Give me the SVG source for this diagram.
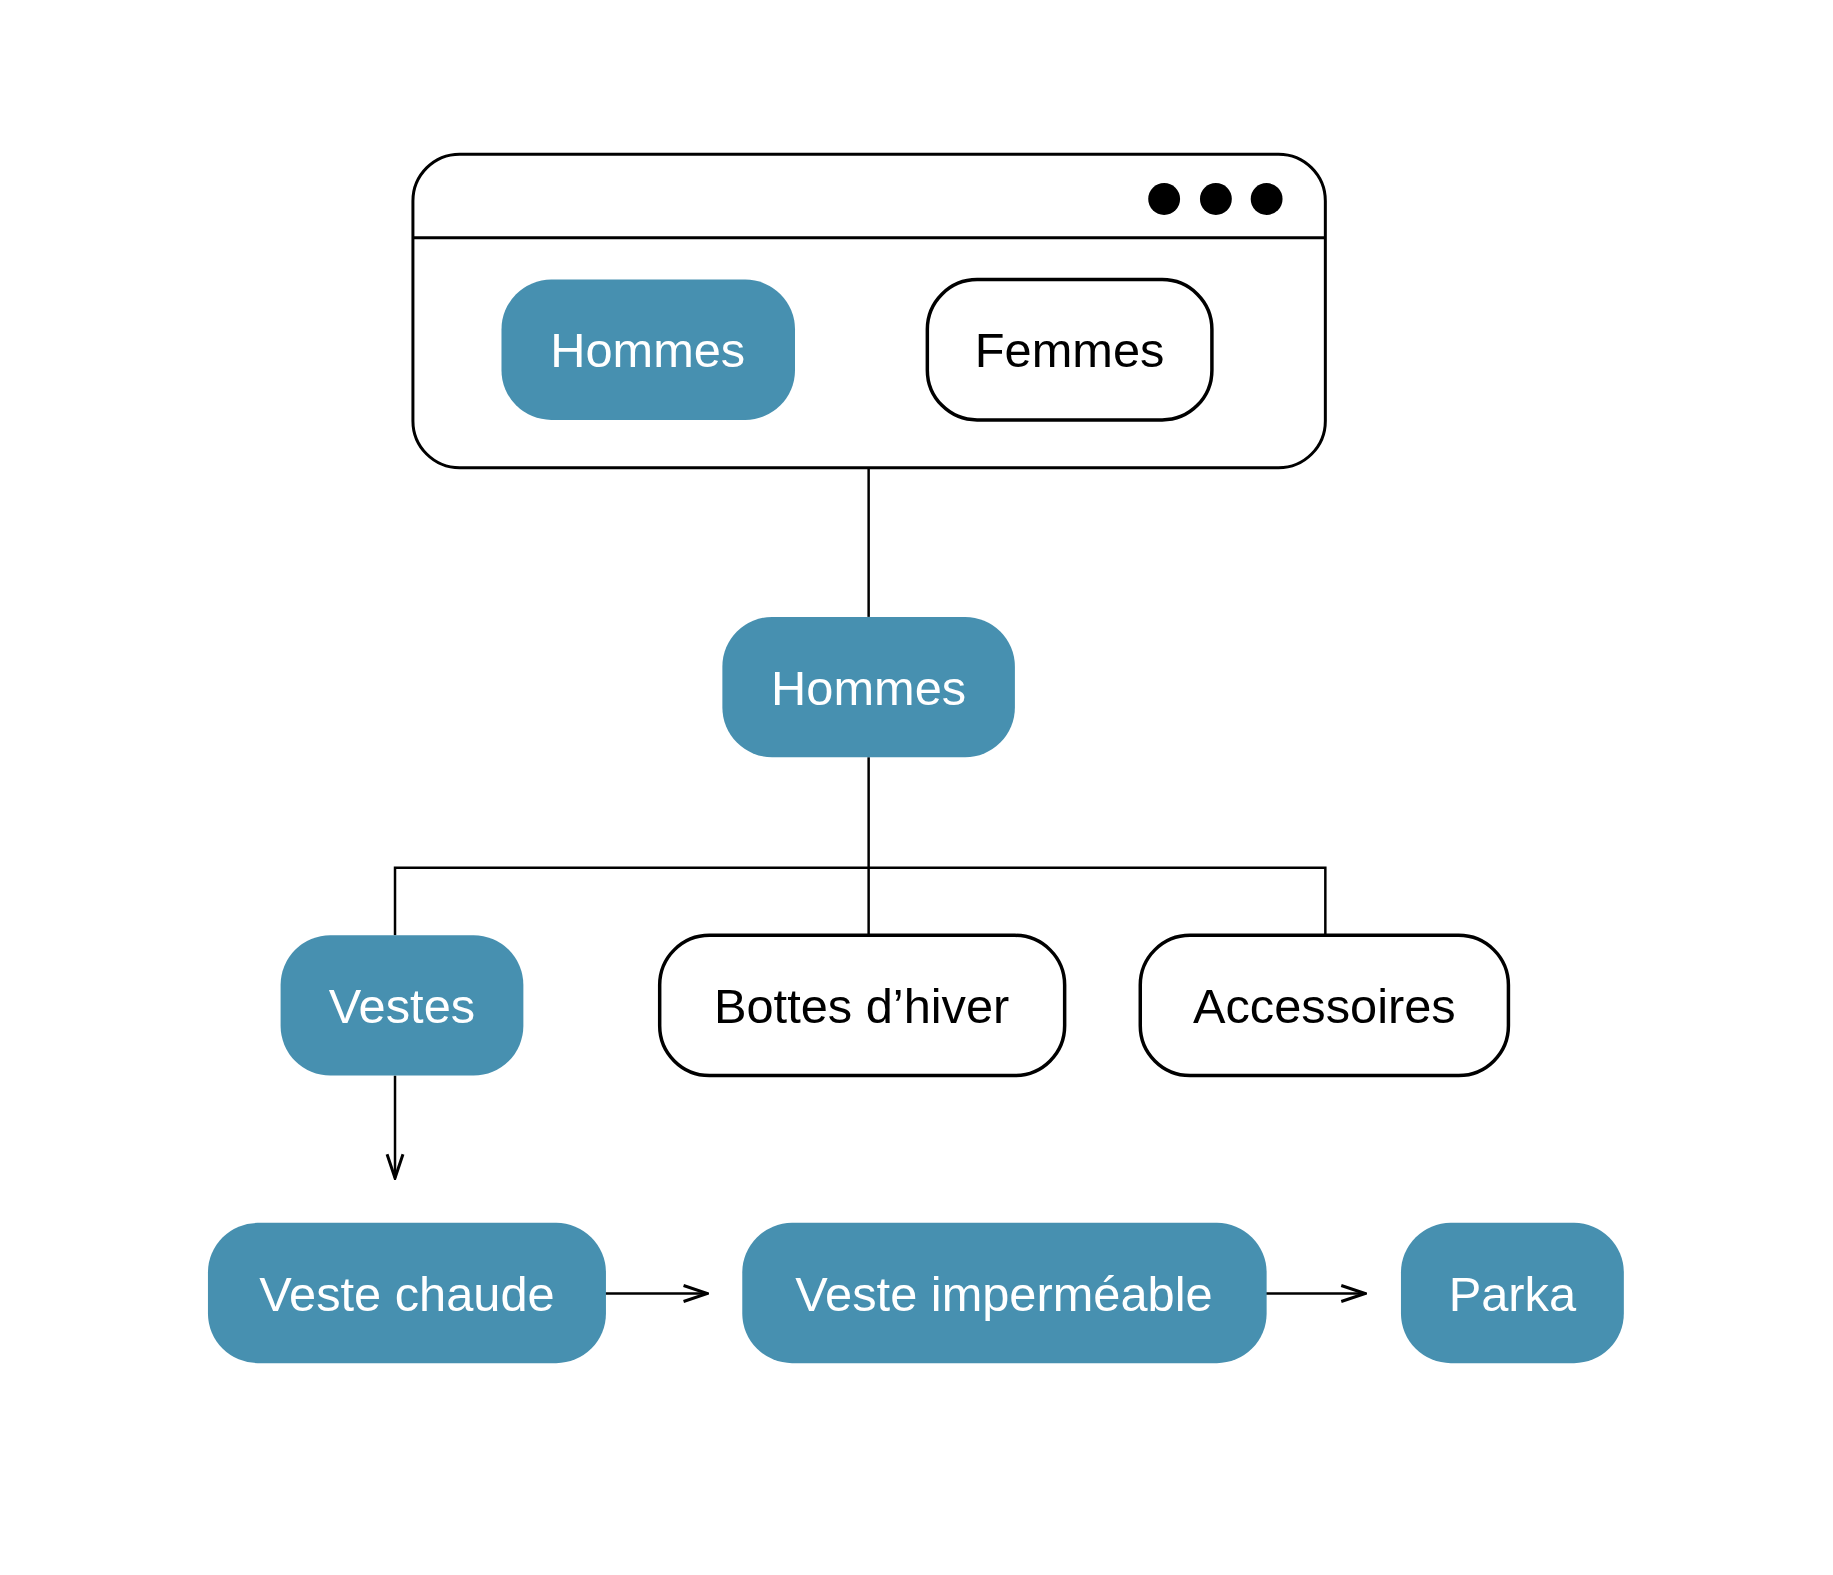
<svg xmlns="http://www.w3.org/2000/svg" width="1833" height="1575" viewBox="0 0 1833 1575">
<style>
.f{fill:#4790b0}
.o{fill:#fff;stroke:#000;stroke-width:3.5}
text{font-family:"Liberation Sans",Arial,sans-serif;font-size:49px;text-anchor:middle;dominant-baseline:central}
.w{fill:#fff}
.k{fill:#000}
.c{stroke:#000;stroke-width:2.5;fill:none}
</style>
<defs><marker id="a" markerWidth="28" markerHeight="20" refX="26" refY="10" orient="auto" markerUnits="userSpaceOnUse"><path d="M2,2 L26,10 L2,18" fill="none" stroke="#000" stroke-width="3"/></marker></defs>
<rect width="1833" height="1575" fill="#fff"/>
<g transform="scale(0.995)">
<g id="window">
<rect x="415" y="155" width="917" height="315" rx="47" fill="#fff" stroke="#000" stroke-width="3"/>
<line x1="415" y1="239" x2="1332" y2="239" stroke="#000" stroke-width="3"/>
<circle cx="1170" cy="200" r="16"/><circle cx="1222" cy="200" r="16"/><circle cx="1273" cy="200" r="16"/>
</g>
<g id="tab-hommes"><rect class="f" x="504" y="281" width="295" height="141" rx="50"/><text class="w" x="651" y="352">Hommes</text></g>
<g id="tab-femmes"><rect class="o" x="932" y="281" width="286" height="141" rx="50"/><text class="k" x="1075" y="352">Femmes</text></g>
<g id="connectors" class="c">
<line x1="873" y1="470" x2="873" y2="620"/>
<line x1="873" y1="761" x2="873" y2="940"/>
<polyline points="397,940 397,872 1332,872 1332,940"/>
<line x1="397" y1="1081" x2="397" y2="1184" marker-end="url(#a)"/>
<line x1="605" y1="1300" x2="711" y2="1300" marker-end="url(#a)"/>
<line x1="1269" y1="1300" x2="1372" y2="1300" marker-end="url(#a)"/>
</g>
<g id="hommes"><rect class="f" x="726" y="620" width="294" height="141" rx="50"/><text class="w" x="873" y="691">Hommes</text></g>
<g id="vestes"><rect class="f" x="282" y="940" width="244" height="141" rx="50"/><text class="w" x="404" y="1011">Vestes</text></g>
<g id="bottes"><rect class="o" x="663" y="940" width="407" height="141" rx="50"/><text class="k" x="866" y="1011">Bottes d’hiver</text></g>
<g id="accessoires"><rect class="o" x="1146" y="940" width="370" height="141" rx="50"/><text class="k" x="1331" y="1011">Accessoires</text></g>
<g id="veste-chaude"><rect class="f" x="209" y="1229" width="400" height="141" rx="50"/><text class="w" x="409" y="1300">Veste chaude</text></g>
<g id="veste-impermeable"><rect class="f" x="746" y="1229" width="527" height="141" rx="50"/><text class="w" x="1009" y="1300">Veste imperméable</text></g>
<g id="parka"><rect class="f" x="1408" y="1229" width="224" height="141" rx="50"/><text class="w" x="1520" y="1300">Parka</text></g>
</g>
</svg>
